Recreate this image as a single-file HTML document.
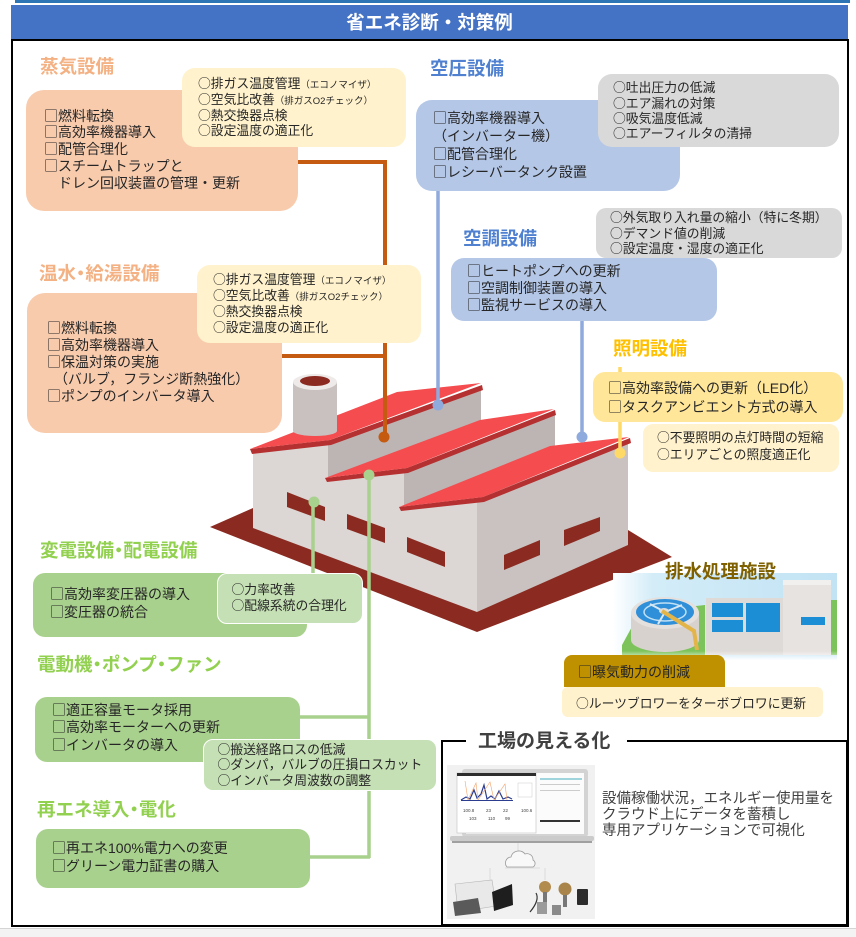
<!DOCTYPE html>
<html><head><meta charset="utf-8">
<style>
*{margin:0;padding:0}
body{width:856px;height:936px;overflow:hidden;background:#fff;position:relative;font-family:"Liberation Sans","Noto Sans CJK JP",sans-serif;color:#262626}
.b{position:absolute;box-sizing:border-box;white-space:nowrap;z-index:2}
.b>div{height:var(--lh);line-height:var(--lh)}
.m{font-size:14px}
.s{font-size:12.8px}
i{font-style:normal;font-family:"Noto Sans CJK JP",sans-serif}
small{font-size:9.5px}
.t{position:absolute;z-index:3;font-weight:bold;font-size:18.5px;line-height:22px;white-space:nowrap}
.d{margin:0 -4.6px}
</style></head><body>

<div style="position:absolute;left:15px;top:0;width:835px;height:3px;background:#2e75b6"></div>
<div style="position:absolute;left:11px;top:5px;width:837px;height:35px;background:#4472c4"></div>
<div style="position:absolute;left:11px;top:5px;width:837px;height:35px;line-height:35px;text-align:center;color:#fff;font-weight:bold;font-size:18.5px;z-index:3">省エネ診断・対策例</div>
<div style="position:absolute;left:0;top:928px;width:856px;height:8px;background:#f3f3f3;border-top:1px solid #d4d4d4"></div>

<svg width="856" height="936" style="position:absolute;left:0;top:0;z-index:1">
<!-- factory shadow -->
<polygon points="210,527 253,508 628,530 672,557 477,632" fill="#8b2a20"/>
<!-- walls -->
<polygon points="253,450 330,438 330,478 405,468 405,506 477,497 477,612 253,528" fill="#dcd6d4"/>
<polygon points="328,441 481,386 481,421 328,478" fill="#bdb5b3"/>
<polygon points="404,469 555,412 555,446 404,506" fill="#bdb5b3"/>
<polygon points="477,498 628,441 628,545 477,612" fill="#c9c2c0"/>
<!-- windows -->
<polygon points="287,492 325,507 325,521 287,507" fill="#8b2a20"/>
<polygon points="347,514 385,528 385,543 347,529" fill="#8b2a20"/>
<polygon points="407,537 445,552 445,567 407,552" fill="#8b2a20"/>
<polygon points="504,555 540,540 540,555 504,570" fill="#8b2a20"/>
<polygon points="564,530 600,517 600,531 564,546" fill="#8b2a20"/>
<!-- roof A -->
<polygon points="250,449 330,440 482,385 483,390 331,445 252,454" fill="#b53030"/>
<polygon points="250,449 397,392 481,383 330,440" fill="#f44c4f"/>
<!-- chimney -->
<path d="M293,382 V431 A22,5 0 0 0 337,431 V382 Z" fill="#c8c1bf"/>
<ellipse cx="315" cy="382" rx="22" ry="8" fill="#eeeae9"/>
<ellipse cx="315" cy="381" rx="15" ry="5" fill="#8b2a20"/>
<!-- roof 2 -->
<polygon points="325,478 407,468 555,410 556,415 408,473 327,482" fill="#b53030"/>
<polygon points="325,478 480,420 554,409 407,468" fill="#f44c4f"/>
<!-- roof 3 -->
<polygon points="399,507 483,497 630,438 631,443 484,502 401,511" fill="#b53030"/>
<polygon points="399,507 550,446 629,437 483,497" fill="#f44c4f"/>

<!-- connectors -->
<g fill="none" stroke-linecap="butt">
<path d="M290,162 H385 V437" stroke="#c55a11" stroke-width="4"/>
<path d="M280,356 H385" stroke="#c55a11" stroke-width="4"/>
<path d="M438,188 V405" stroke="#8faadc" stroke-width="3.5"/>
<path d="M582,319 V437" stroke="#8faadc" stroke-width="3.5"/>
<path d="M620,367 V372 M620,420 V453" stroke="#ffd966" stroke-width="3.5"/>
<path d="M313,502 V575" stroke="#a9d18e" stroke-width="3.5"/>
<path d="M369,475 V858" stroke="#a9d18e" stroke-width="3.5"/>
<path d="M296,717 H370" stroke="#a9d18e" stroke-width="3.5"/>
<path d="M306,857 H370" stroke="#a9d18e" stroke-width="3.5"/>
</g>
<circle cx="384" cy="437" r="5.5" fill="#c55a11"/>
<circle cx="438" cy="405" r="5.5" fill="#8faadc"/>
<circle cx="582" cy="437" r="5.5" fill="#8faadc"/>
<circle cx="620" cy="453" r="5.5" fill="#ffd966"/>
<circle cx="369" cy="475" r="5.5" fill="#a9d18e"/>
<circle cx="314" cy="502" r="5.5" fill="#a9d18e"/>

<!-- drainage illustration -->
<defs>
<linearGradient id="sky" x1="0" y1="0" x2="1" y2="0">
<stop offset="0" stop-color="#ffffff"/><stop offset="0.18" stop-color="#d3ecf8"/><stop offset="1" stop-color="#c2e3f4"/>
</linearGradient>
<linearGradient id="skyv" x1="0" y1="0" x2="0" y2="1">
<stop offset="0.7" stop-color="#ffffff" stop-opacity="0"/><stop offset="1" stop-color="#ffffff" stop-opacity="0.95"/>
</linearGradient>
</defs>
<rect x="613" y="573" width="224" height="87" fill="url(#sky)"/>
<polygon points="622,645 640,612 705,605 705,655 622,655" fill="#7dc35b"/>
<rect x="830" y="600" width="7" height="55" fill="#7dc35b"/>
<path d="M631,613 V640 A34,12 0 0 0 699,640 V613 Z" fill="#d8d2cf"/>
<ellipse cx="665" cy="613" rx="34" ry="16" fill="#e4e0de"/>
<ellipse cx="665" cy="612" rx="29" ry="13" fill="#2f8fd8"/>
<ellipse cx="665" cy="612" rx="21" ry="9" fill="none" stroke="#bfe0f5" stroke-width="1.5"/>
<path d="M665,612 L650,604 M665,612 L682,605 M665,612 L658,624" stroke="#d8e8f2" stroke-width="2"/>
<ellipse cx="664" cy="611" rx="5" ry="3" fill="#ddd"/>
<path d="M662,611 L694,631 L697,650" stroke="#e3b548" stroke-width="4" fill="none"/>
<rect x="706" y="598" width="80" height="57" fill="#dedad8"/>
<rect x="712" y="603" width="31" height="14" fill="#1b8ed6"/>
<rect x="746" y="603" width="34" height="29" fill="#1b8ed6"/>
<rect x="712" y="620" width="31" height="12" fill="#1b8ed6"/>
<rect x="783" y="580" width="48" height="75" fill="#e7e3e1"/>
<rect x="783" y="580" width="48" height="5" fill="#f2f0ef"/>
<rect x="801" y="617" width="24" height="8" fill="#1b8ed6"/>
<rect x="613" y="630" width="224" height="30" fill="url(#skyv)"/>

<!-- visualization image -->
<rect x="447" y="765" width="148" height="154" fill="#f1f1f1"/>
<rect x="462" y="769" width="126" height="68" rx="3" fill="#d3d3d3"/>
<rect x="466" y="773" width="118" height="61" fill="#fbfbfb"/>
<rect x="540" y="778" width="42" height="2" fill="#9fd4dc"/>
<rect x="540" y="784" width="40" height="1" fill="#ccc"/>
<rect x="540" y="790" width="40" height="1" fill="#ccc"/>
<rect x="540" y="820" width="40" height="2" fill="#333"/>
<rect x="450" y="836" width="144" height="5" rx="2" fill="#cbcbcb"/>
<rect x="452" y="841" width="140" height="2" fill="#a0a0a0"/>
<rect x="457" y="773" width="79" height="60" fill="#fff" stroke="#c8c8c8" stroke-width="0.7"/>
<rect x="457" y="773" width="79" height="3" fill="#2d2d2d"/>
<polyline points="461,800 466,797 470,799 474,790 477,798 481,794 484,785 487,799 491,796 495,799 499,791 503,799 508,797 512,799" fill="none" stroke="#2c3d8f" stroke-width="1.2"/>
<polyline points="465,781 468,800 476,783 478,800 490,782 494,800 505,784 507,800" fill="none" stroke="#f3a36b" stroke-width="0.6"/>
<rect x="461" y="800" width="52" height="1" fill="#2c3d8f"/>
<rect x="518" y="783" width="14" height="14" fill="none" stroke="#ccc" stroke-width="0.5"/>
<text x="463" y="812" font-size="4.5" fill="#444" font-family="Liberation Sans, sans-serif">100.8</text>
<text x="486" y="812" font-size="4.5" fill="#444" font-family="Liberation Sans, sans-serif">23</text>
<text x="503" y="812" font-size="4.5" fill="#444" font-family="Liberation Sans, sans-serif">22</text>
<text x="521" y="812" font-size="4.5" fill="#444" font-family="Liberation Sans, sans-serif">100.6</text>
<text x="469" y="820" font-size="4.5" fill="#444" font-family="Liberation Sans, sans-serif">103</text>
<text x="488" y="820" font-size="4.5" fill="#444" font-family="Liberation Sans, sans-serif">110</text>
<text x="505" y="820" font-size="4.5" fill="#444" font-family="Liberation Sans, sans-serif">99</text>
<path d="M518,843 V851 M505,868 H540 M490,868 V880 M545,868 V880" stroke="#d6d6d6" stroke-width="0.8" fill="none"/>
<path d="M507,867 a6,6 0 0 1 4,-10 a8,8 0 0 1 14,-3 a6,6 0 0 1 8,6 a4,4 0 0 1 0,7 Z" fill="#f8f8f8" stroke="#9a9a9a" stroke-width="0.8"/>
<polygon points="455,884 492,880 496,906 458,912" fill="#e9e9e9" stroke="#b5b5b5" stroke-width="0.6"/>
<polygon points="453,902 478,898 481,913 455,916" fill="#5a5a5a"/>
<polygon points="492,892 512,884 513,905 494,911" fill="#1e1e1e"/>
<circle cx="545" cy="887" r="6" fill="#b28c4f"/>
<circle cx="565" cy="889" r="6.5" fill="#a9854c"/>
<rect x="543" y="892" width="4" height="12" fill="#777"/>
<rect x="563" y="895" width="4" height="12" fill="#777"/>
<rect x="537" y="902" width="10" height="12" fill="#9a9a9a"/>
<rect x="552" y="905" width="9" height="10" fill="#8a8a8a"/>
<rect x="577" y="889" width="11" height="16" rx="1" fill="#2c2c2c"/>
<path d="M530,912 Q540,900 536,893" stroke="#333" stroke-width="1.2" fill="none"/>
</svg>

<!-- frame -->
<div style="position:absolute;left:11px;top:39px;width:838px;height:888px;border:2px solid #000;box-sizing:border-box;z-index:1"></div>

<!-- titles -->
<div class="t" style="left:40px;top:56px;color:#f4b183">蒸気設備</div>
<div class="t" style="left:39px;top:263px;color:#f4b183">温水<span class="d">・</span>給湯設備</div>
<div class="t" style="left:430px;top:58px;color:#4f81d0">空圧設備</div>
<div class="t" style="left:463px;top:228px;color:#4f81d0">空調設備</div>
<div class="t" style="left:613px;top:338px;color:#ffc000">照明設備</div>
<div class="t" style="left:40px;top:540px;color:#92d050">変電設備<span class="d">・</span>配電設備</div>
<div class="t" style="left:37px;top:654px;color:#92d050">電動機<span class="d">・</span>ポンプ<span class="d">・</span>ファン</div>
<div class="t" style="left:37px;top:799px;color:#92d050">再エネ導入<span class="d">・</span>電化</div>
<div class="t" style="left:665px;top:561px;color:#7f6000">排水処理施設</div>

<!-- steam -->
<div class="b m" style="left:26px;top:90px;width:272px;height:121px;border-radius:18px;background:#f8cbad;padding:17.6px 0 0 18px;--lh:16.8px">
<div><i>□</i>燃料転換</div><div><i>□</i>高効率機器導入</div><div><i>□</i>配管合理化</div><div><i>□</i>スチームトラップと</div><div>　ドレン回収装置の管理・更新</div></div>
<div class="b s" style="left:182px;top:68px;width:224px;height:79px;border-radius:13px;background:#fff2cc;padding:7.2px 0 0 16px;--lh:15.7px">
<div><i>○</i>排ガス温度管理<small>（エコノマイザ）</small></div><div><i>○</i>空気比改善<small>（排ガスO2チェック）</small></div><div><i>○</i>熱交換器点検</div><div><i>○</i>設定温度の適正化</div></div>

<!-- hot water -->
<div class="b m" style="left:27px;top:293px;width:255px;height:140px;border-radius:18px;background:#f8cbad;padding:26.5px 0 0 20px;--lh:17px">
<div><i>□</i>燃料転換</div><div><i>□</i>高効率機器導入</div><div><i>□</i>保温対策の実施</div><div>　（バルブ，フランジ断熱強化）</div><div><i>□</i>ポンプのインバータ導入</div></div>
<div class="b s" style="left:197px;top:265px;width:224px;height:78px;border-radius:13px;background:#fff2cc;padding:6px 0 0 16px;--lh:16px">
<div><i>○</i>排ガス温度管理<small>（エコノマイザ）</small></div><div><i>○</i>空気比改善<small>（排ガスO2チェック）</small></div><div><i>○</i>熱交換器点検</div><div><i>○</i>設定温度の適正化</div></div>

<!-- air -->
<div class="b m" style="left:416px;top:100px;width:264px;height:91px;border-radius:16px;background:#b4c7e7;padding:9px 0 0 17px;--lh:18px">
<div><i>□</i>高効率機器導入</div><div>（インバーター機）</div><div><i>□</i>配管合理化</div><div><i>□</i>レシーバータンク設置</div></div>
<div class="b s" style="left:598px;top:74px;width:241px;height:73px;border-radius:14px;background:#d9d9d9;padding:5.3px 0 0 15px;--lh:15.3px">
<div><i>○</i>吐出圧力の低減</div><div><i>○</i>エア漏れの対策</div><div><i>○</i>吸気温度低減</div><div><i>○</i>エアーフィルタの清掃</div></div>

<!-- AC -->
<div class="b m" style="left:451px;top:258px;width:266px;height:63px;border-radius:13px;background:#b4c7e7;padding:4.9px 0 0 16px;--lh:17.2px">
<div><i>□</i>ヒートポンプへの更新</div><div><i>□</i>空調制御装置の導入</div><div><i>□</i>監視サービスの導入</div></div>
<div class="b s" style="left:596px;top:208px;width:246px;height:50px;border-radius:10px;background:#d9d9d9;padding:1.3px 0 0 14px;--lh:15.5px">
<div><i>○</i>外気取り入れ量の縮小（特に冬期）</div><div><i>○</i>デマンド値の削減</div><div><i>○</i>設定温度・湿度の適正化</div></div>

<!-- lighting -->
<div class="b m" style="left:593px;top:372px;width:250px;height:50px;border-radius:12px;background:#ffe699;padding:6.5px 0 0 15px;--lh:19px">
<div><i>□</i>高効率設備への更新（LED化）</div><div><i>□</i>タスクアンビエント方式の導入</div></div>
<div class="b s" style="left:643px;top:424px;width:196px;height:48px;border-radius:10px;background:#fff2cc;padding:5.2px 0 0 14px;--lh:16.5px">
<div><i>○</i>不要照明の点灯時間の短縮</div><div><i>○</i>エリアごとの照度適正化</div></div>

<!-- transformer -->
<div class="b m" style="left:33px;top:573px;width:274px;height:64px;border-radius:12px;background:#a9d18e;padding:13.2px 0 0 17px;--lh:17.5px">
<div><i>□</i>高効率変圧器の導入</div><div><i>□</i>変圧器の統合</div></div>
<div class="b s" style="left:217px;top:573px;width:146px;height:51px;border-radius:10px;background:#c5e0b4;border:1.5px solid #fff;padding:6.7px 0 0 13.5px;--lh:16.5px">
<div><i>○</i>力率改善</div><div><i>○</i>配線系統の合理化</div></div>

<!-- motor -->
<div class="b m" style="left:35px;top:697px;width:265px;height:65px;border-radius:12px;background:#a9d18e;padding:4.7px 0 0 17px;--lh:17.5px">
<div><i>□</i>適正容量モータ採用</div><div><i>□</i>高効率モーターへの更新</div><div><i>□</i>インバータの導入</div></div>
<div class="b s" style="left:203px;top:739px;width:234px;height:52px;border-radius:10px;background:#c5e0b4;border:1.5px solid #fff;padding:0.8px 0 0 13.5px;--lh:15.5px">
<div><i>○</i>搬送経路ロスの低減</div><div><i>○</i>ダンパ，バルブの圧損ロスカット</div><div><i>○</i>インバータ周波数の調整</div></div>

<!-- renewable -->
<div class="b m" style="left:36px;top:829px;width:274px;height:59px;border-radius:12px;background:#a9d18e;padding:10px 0 0 16px;--lh:18px">
<div><i>□</i>再エネ100%電力への変更</div><div><i>□</i>グリーン電力証書の購入</div></div>

<!-- drainage boxes -->
<div class="b m" style="left:564px;top:655px;width:161px;height:32px;border-radius:8px 8px 0 0;background:#bf9000;padding:8px 0 0 14px;--lh:18px">
<div><i>□</i>曝気動力の削減</div></div>
<div class="b s" style="left:562px;top:687px;width:261px;height:30px;border-radius:6px;background:#fff2cc;padding:8px 0 0 14px;--lh:16px">
<div><i>○</i>ルーツブロワーをターボブロワに更新</div></div>

<!-- visualization box -->
<div style="position:absolute;left:441px;top:740px;width:407px;height:186px;border:2px solid #000;box-sizing:border-box;z-index:0"></div>
<div style="position:absolute;left:466px;top:731px;width:161px;height:22px;background:#fff;z-index:2"></div>
<div class="t" style="left:478px;top:731px;color:#404040;font-size:19px">工場の見える化</div>
<div class="b" style="left:602px;top:791px;font-size:14.5px;color:#404040;--lh:16px">
<div>設備稼働状況，エネルギー使用量を</div><div>クラウド上にデータを蓄積し</div><div>専用アプリケーションで可視化</div></div>

</body></html>
